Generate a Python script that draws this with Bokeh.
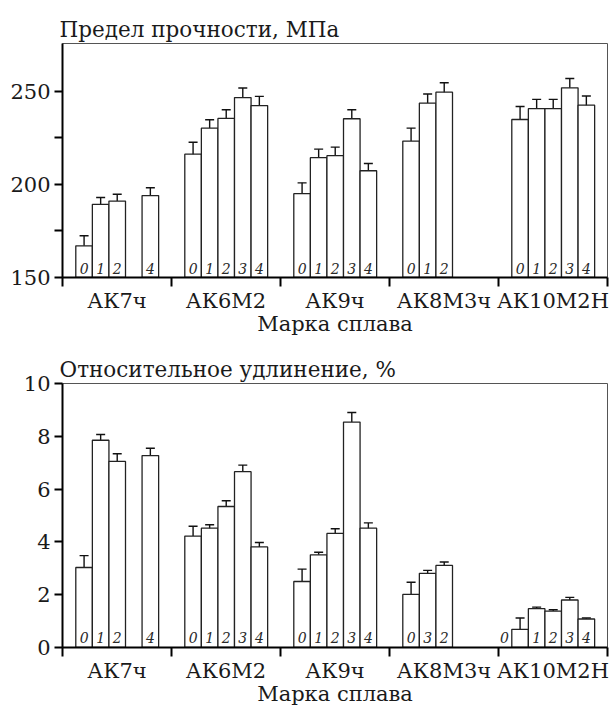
from bokeh.plotting import figure
from bokeh.models import ColumnDataSource, Range1d, FixedTicker, Whisker, TeeHead
from bokeh.layouts import column
from bokeh.core.properties import value
from bokeh.embed import file_html
from bokeh.resources import INLINE

# ---------------- data ----------------
groups = ["АК7ч", "АК6М2", "АК9ч", "АК8М3ч", "АК10М2Н"]

bar_group = [0, 0, 0, 0, 1, 1, 1, 1, 1, 2, 2, 2, 2, 2, 3, 3, 3, 4, 4, 4, 4, 4]
bar_slot = [0, 1, 2, 4, 0, 1, 2, 3, 4, 0, 1, 2, 3, 4, 0, 1, 2, 0, 1, 2, 3, 4]

strength_labels = ["0", "1", "2", "4", "0", "1", "2", "3", "4", "0", "1", "2", "3", "4",
                   "0", "1", "2", "0", "1", "2", "3", "4"]
strength_values = [167.0, 189.3, 191.0, 194.0,
                   216.2, 230.2, 235.4, 246.6, 242.3,
                   195.0, 214.3, 215.4, 235.2, 207.3,
                   223.2, 243.6, 249.5,
                   234.8, 240.6, 240.6, 251.8, 242.5]
strength_errors = [5.4, 3.6, 3.7, 4.2,
                   6.4, 4.5, 4.6, 5.1, 4.9,
                   5.8, 4.6, 4.6, 4.8, 3.9,
                   7.0, 4.9, 5.0,
                   7.0, 5.0, 5.0, 5.0, 4.9]

elong_labels = ["0", "1", "2", "4", "0", "1", "2", "3", "4", "0", "1", "2", "3", "4",
                "0", "3", "2", "0", "1", "2", "3", "4"]
elong_values = [3.03, 7.85, 7.05, 7.27,
                4.22, 4.52, 5.34, 6.66, 3.81,
                2.50, 3.51, 4.32, 8.54, 4.52,
                2.01, 2.81, 3.11,
                0.69, 1.47, 1.38, 1.80, 1.08]
elong_errors = [0.45, 0.22, 0.29, 0.28,
                0.37, 0.13, 0.22, 0.25, 0.17,
                0.47, 0.10, 0.18, 0.36, 0.20,
                0.46, 0.11, 0.13,
                0.43, 0.06, 0.05, 0.10, 0.04]

strength_ticks = [150, 200, 250]
strength_minor = [175, 225]
elong_ticks = [0, 2, 4, 6, 8, 10]

FONT = "DejaVu Serif"
BAR_W = 0.152
BAR_START = 0.122


def make_chart(title, values, errors, labels, y_start, y_end, ticks, minor,
               height, border_top, border_bottom):
    p = figure(width=609, height=height,
               x_range=Range1d(0, len(groups)), y_range=Range1d(y_start, y_end),
               output_backend="svg", toolbar_location=None,
               min_border_left=62, min_border_right=2,
               min_border_top=border_top, min_border_bottom=border_bottom)
    p.background_fill_color = "white"
    p.border_fill_color = "white"
    p.outline_line_color = "#555555"
    p.outline_line_width = 1
    p.xgrid.visible = False
    p.ygrid.visible = False

    xs = [g + BAR_START + BAR_W * (s + 0.5) for g, s in zip(bar_group, bar_slot)]
    span = y_end - y_start
    label_x = []
    for x, v in zip(xs, values):
        # a bar too short to hold its number gets it just to its left
        if (v - y_start) < 0.09 * span:
            label_x.append(x - BAR_W * 0.95)
        else:
            label_x.append(x)
    src = ColumnDataSource(dict(
        x=xs, top=values,
        upper=[v + e for v, e in zip(values, errors)],
        lower=[v - e for v, e in zip(values, errors)],
        label=labels, lx=label_x,
        ly=[y_start + 0.038 * span] * len(values),
    ))

    p.vbar(x="x", top="top", bottom=y_start, width=BAR_W, source=src,
           fill_color="white", line_color="#222222", line_width=1.3)

    w = Whisker(base="x", upper="upper", lower="lower", source=src,
                line_color="#111111", line_width=1.4,
                upper_head=TeeHead(size=9, line_color="#111111", line_width=1.4),
                lower_head=TeeHead(size=9, line_color="#111111", line_width=1.4))
    p.add_layout(w)

    p.text(x="lx", y="ly", text="label", source=src,
           text_font=value(FONT), text_font_style="italic",
           text_font_size="14px", text_align="center", text_baseline="middle",
           text_color="#2a2a2a")

    # title
    p.title.text = title
    p.title.text_font = FONT
    p.title.text_font_style = "normal"
    p.title.text_font_size = "21.5px"
    p.title.text_color = "#1a1a1a"
    p.title.align = "left"
    p.title.offset = -3
    p.title.standoff = 3

    # x axis
    xa = p.xaxis[0]
    xa.ticker = FixedTicker(ticks=[i + 0.5 for i in range(len(groups))],
                            minor_ticks=list(range(len(groups) + 1)))
    xa.major_label_overrides = {i + 0.5: g for i, g in enumerate(groups)}
    xa.major_tick_line_color = None
    xa.major_tick_in = 0
    xa.major_tick_out = 0
    xa.minor_tick_in = 0
    xa.minor_tick_out = 9
    xa.minor_tick_line_color = "black"
    xa.minor_tick_line_width = 2
    xa.axis_line_color = "black"
    xa.axis_line_width = 2
    xa.major_label_text_font = FONT
    xa.major_label_text_font_size = "21px"
    xa.major_label_text_color = "#1a1a1a"
    xa.major_label_standoff = 2
    xa.axis_label = "Марка сплава"
    xa.axis_label_text_font = FONT
    xa.axis_label_text_font_style = "normal"
    xa.axis_label_text_font_size = "21px"
    xa.axis_label_text_color = "#1a1a1a"
    xa.axis_label_standoff = -4

    # y axis
    ya = p.yaxis[0]
    ya.ticker = FixedTicker(ticks=ticks, minor_ticks=minor)
    ya.major_tick_in = 0
    ya.major_tick_out = 8
    ya.minor_tick_in = 0
    ya.minor_tick_out = 8
    ya.major_tick_line_width = 2
    ya.minor_tick_line_width = 2
    ya.major_tick_line_color = "black"
    ya.minor_tick_line_color = "black"
    ya.axis_line_color = "black"
    ya.axis_line_width = 2
    ya.major_label_text_font = FONT
    ya.major_label_text_font_size = "21px"
    ya.major_label_text_color = "#1a1a1a"
    ya.major_label_standoff = 4
    return p


p1 = make_chart("Предел прочности, МПа", strength_values, strength_errors,
                strength_labels, 150, 275.6, strength_ticks, strength_minor,
                340, 43, 63)
p2 = make_chart("Относительное удлинение, %", elong_values, elong_errors,
                elong_labels, 0, 10, elong_ticks, [],
                368, 43, 61)

layout = column(p1, p2, spacing=0)
open("out.html", "w").write(file_html(layout, INLINE))
